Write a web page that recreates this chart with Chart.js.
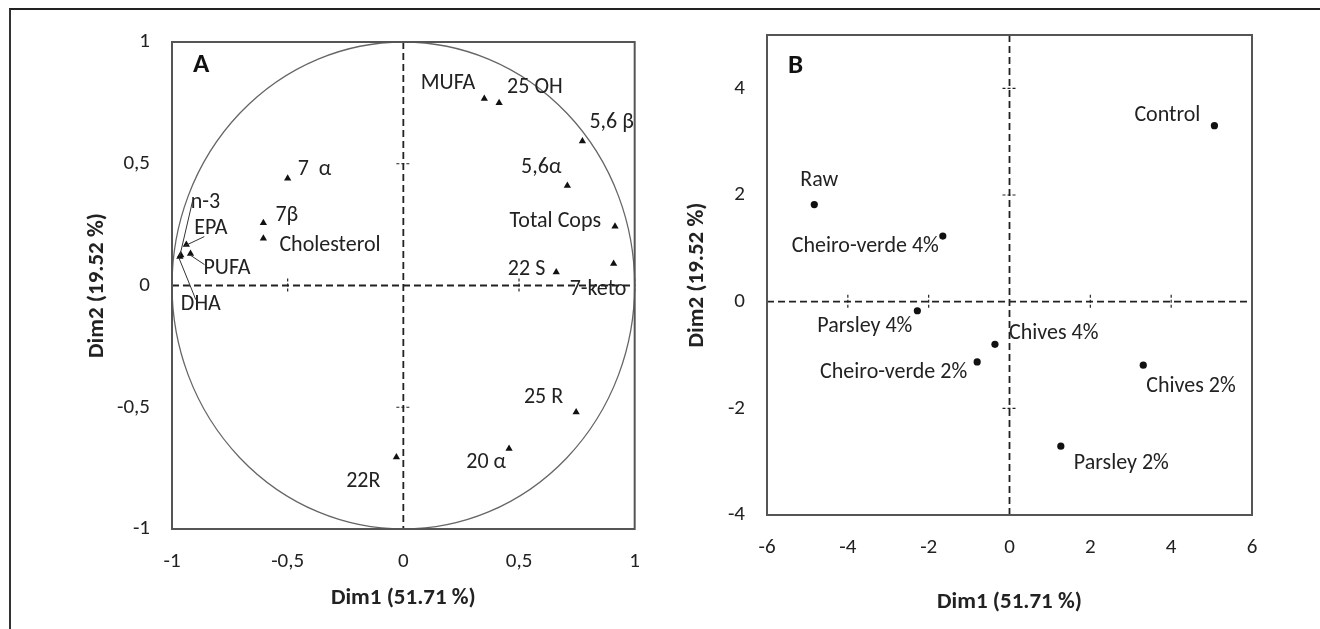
<!DOCTYPE html>
<html lang="en">
<head>
    <meta charset="UTF-8">
    <title>PCA - Dim1 x Dim2</title>
    <script src="https://cdn.jsdelivr.net/npm/chart.js"></script>
    <style>
        body { margin: 0; background: #fff; }
        .moldura { position: absolute; left: 9px; top: 8px; right: 0; bottom: 0; border-top: 2px solid #222; border-left: 2px solid #333; }
        canvas { position: absolute; top: 0; }
        #graficoA { left: 0; }
        #graficoB { left: 660px; }
    </style>
</head>
<body>
    <div class="moldura"></div>
    <canvas id="graficoA" width="660" height="629"></canvas>
    <canvas id="graficoB" width="660" height="629"></canvas>

    <script>
        // Panel A - variables (correlation circle)
        const varNames = ['MUFA', '25 OH', '5,6 β', '5,6α', 'Total Cops', '7-keto', '22 S', '7  α', '7β', 'Cholesterol',
                          'n-3', 'EPA', 'PUFA', 'DHA', '25 R', '20 α', '22R'];
        const varDim1 = [0.35, 0.414, 0.774, 0.709, 0.915, 0.909, 0.661, -0.50, -0.605, -0.605,
                         -0.962, -0.938, -0.92, -0.966, 0.747, 0.457, -0.03];
        const varDim2 = [0.767, 0.75, 0.593, 0.41, 0.243, 0.09, 0.055, 0.44, 0.257, 0.193,
                         0.125, 0.168, 0.131, 0.118, -0.52, -0.67, -0.705];
        const ticksA = [-1, -0.5, 0, 0.5, 1];

        // Panel B - samples (scores)
        const sampleNames = ['Control', 'Raw', 'Cheiro-verde 4%', 'Parsley 4%', 'Chives 4%', 'Cheiro-verde 2%', 'Chives 2%', 'Parsley 2%'];
        const sampleDim1 = [5.07, -4.83, -1.65, -2.28, -0.36, -0.80, 3.31, 1.27];
        const sampleDim2 = [3.30, 1.82, 1.23, -0.17, -0.80, -1.13, -1.19, -2.71];
        const ticksBx = [-6, -4, -2, 0, 2, 4, 6];
        const ticksBy = [-4, -2, 0, 2, 4];

        // label placement (pixel offsets from the point) - layout only
        const posA = [[-9, -15, 'right'], [8, -15, 'left'], [7, -19, 'left'], [-6, -18, 'right'], [-14, -5, 'right'],
                      [-44, 26, 'left'], [-11, -3, 'right'], [10, -9, 'left'], [12, -7, 'left'], [16, 7, 'left'],
                      [10, -53, 'left'], [8, -16, 'left'], [13, 15, 'left'], [1, 48, 'left'], [-13, -15, 'right'],
                      [-3, 14, 'right'], [-16, 24, 'right']];
        // leader lines for the crowded labels (index -> end offset)
        const leadersA = { 10: [12, -55], 11: [18, -8], 12: [14, 11], 13: [16, 43] };
        const posB = [[-14, -10, 'right'], [-14, -24, 'left'], [-4, 10, 'right'], [-5, 16, 'right'], [14, -11, 'left'],
                      [-10, 11, 'right'], [3, 21, 'left'], [13, 17, 'left']];

        Chart.defaults.font.family = "Carlito, Calibri, Lato, 'Open Sans', sans-serif";
        Chart.defaults.color = '#222';

        const virgula = v => String(v).replace('.', ',');

        // draws frame, dashed zero lines, cross marks, circle, labels
        function painelPlugin(cfg) {
            return {
                id: 'painel' + cfg.letra,
                beforeDatasetsDraw(chart) {
                    const { ctx, chartArea: a, scales: { x, y } } = chart;
                    ctx.save();
                    if (cfg.circulo) {
                        const cx = x.getPixelForValue(0), cy = y.getPixelForValue(0);
                        ctx.strokeStyle = '#666';
                        ctx.lineWidth = 1.3;
                        ctx.beginPath();
                        ctx.ellipse(cx, cy, x.getPixelForValue(1) - cx, cy - y.getPixelForValue(1), 0, 0, Math.PI * 2);
                        ctx.stroke();
                    }
                    // zero lines
                    const x0 = x.getPixelForValue(0), y0 = y.getPixelForValue(0);
                    ctx.strokeStyle = '#222';
                    ctx.lineWidth = 1.8;
                    ctx.setLineDash([7, 4]);
                    ctx.beginPath();
                    ctx.moveTo(a.left, y0); ctx.lineTo(a.right, y0);
                    ctx.moveTo(x0, a.top); ctx.lineTo(x0, a.bottom);
                    ctx.stroke();
                    // little cross marks at each tick
                    ctx.setLineDash([3, 2]);
                    ctx.lineWidth = 1.2;
                    ctx.beginPath();
                    x.ticks.forEach(t => {
                        if (t.value === 0) return;
                        const px = x.getPixelForValue(t.value);
                        ctx.moveTo(px, y0 - 7); ctx.lineTo(px, y0 + 7);
                    });
                    y.ticks.forEach(t => {
                        if (t.value === 0) return;
                        const py = y.getPixelForValue(t.value);
                        ctx.moveTo(x0 - 7, py); ctx.lineTo(x0 + 7, py);
                    });
                    ctx.stroke();
                    ctx.setLineDash([]);
                    // frame
                    ctx.strokeStyle = '#555';
                    ctx.lineWidth = 2;
                    ctx.strokeRect(a.left, a.top, a.right - a.left, a.bottom - a.top);
                    ctx.restore();
                },
                afterDatasetsDraw(chart) {
                    const { ctx, chartArea: a } = chart;
                    const meta = chart.getDatasetMeta(0);
                    ctx.save();
                    ctx.fillStyle = '#222';
                    ctx.strokeStyle = '#333';
                    ctx.lineWidth = 1;
                    ctx.font = "22px " + Chart.defaults.font.family;
                    ctx.textBaseline = 'middle';
                    meta.data.forEach((pt, i) => {
                        const [dx, dy, al] = cfg.pos[i];
                        ctx.textAlign = al;
                        ctx.fillText(cfg.nomes[i], pt.x + dx, pt.y + dy);
                        const l = cfg.leaders && cfg.leaders[i];
                        if (l) {
                            ctx.beginPath();
                            ctx.moveTo(pt.x - 1, pt.y + 1);
                            ctx.lineTo(pt.x + l[0], pt.y + l[1]);
                            ctx.stroke();
                        }
                    });
                    // panel letter
                    ctx.font = "bold 27px " + Chart.defaults.font.family;
                    ctx.textAlign = 'left';
                    ctx.fillStyle = '#111';
                    ctx.fillText(cfg.letra, a.left + 21, a.top + cfg.letraY);
                    ctx.restore();
                }
            };
        }

        function eixos(o) {
            const tituloFont = { size: 23, weight: 'bold' };
            return {
                x: {
                    type: 'linear', min: o.xt[0], max: o.xt[o.xt.length - 1],
                    afterBuildTicks: s => { s.ticks = o.xt.map(v => ({ value: v })); },
                    ticks: { padding: 20, font: { size: 21 }, color: '#222', callback: virgula },
                    grid: { display: false, drawTicks: false },
                    border: { display: false },
                    title: { display: true, text: 'Dim1 (51.71 %)', font: tituloFont, color: '#222', padding: { top: 0, bottom: o.xTitPad } },
                    afterFit: s => { s.height = o.xH; }
                },
                y: {
                    type: 'linear', min: o.yMin, max: o.yMax,
                    afterBuildTicks: s => { s.ticks = o.yt.map(v => ({ value: v })); },
                    ticks: { padding: 22, font: { size: 21 }, color: '#222', callback: virgula },
                    grid: { display: false, drawTicks: false },
                    border: { display: false },
                    title: { display: true, text: 'Dim2 (19.52 %)', font: tituloFont, color: '#222', padding: { top: o.yTitPad, bottom: 0 } },
                    afterFit: s => { s.width = o.yW; }
                }
            };
        }

        new Chart(document.getElementById('graficoA'), {
            type: 'scatter',
            data: {
                datasets: [{
                    data: varDim1.map((v, i) => ({ x: v, y: varDim2[i] })),
                    pointStyle: 'triangle', pointRadius: 4.2,
                    backgroundColor: '#111', borderColor: '#111', borderWidth: 0
                }]
            },
            options: {
                responsive: false, animation: false, devicePixelRatio: 1,
                layout: { padding: { top: 42, right: 21, left: 0, bottom: 0 } },
                plugins: { legend: { display: false }, tooltip: { enabled: false } },
                scales: eixos({ xt: ticksA, yt: ticksA, yMin: -1, yMax: 1, xH: 100, yW: 172, xTitPad: 17, yTitPad: 83 })
            },
            plugins: [painelPlugin({ letra: 'A', letraY: 23, circulo: true, nomes: varNames, pos: posA, leaders: leadersA })]
        });

        new Chart(document.getElementById('graficoB'), {
            type: 'scatter',
            data: {
                datasets: [{
                    data: sampleDim1.map((v, i) => ({ x: v, y: sampleDim2[i] })),
                    pointStyle: 'circle', pointRadius: 3.6,
                    backgroundColor: '#111', borderColor: '#111', borderWidth: 0
                }]
            },
            options: {
                responsive: false, animation: false, devicePixelRatio: 1,
                layout: { padding: { top: 35, right: 68, left: 0, bottom: 0 } },
                plugins: { legend: { display: false }, tooltip: { enabled: false } },
                scales: eixos({ xt: ticksBx, yt: ticksBy, yMin: -4, yMax: 5, xH: 114, yW: 107, xTitPad: 13, yTitPad: 23 })
            },
            plugins: [painelPlugin({ letra: 'B', letraY: 31, circulo: false, nomes: sampleNames, pos: posB })]
        });
    </script>
</body>
</html>
